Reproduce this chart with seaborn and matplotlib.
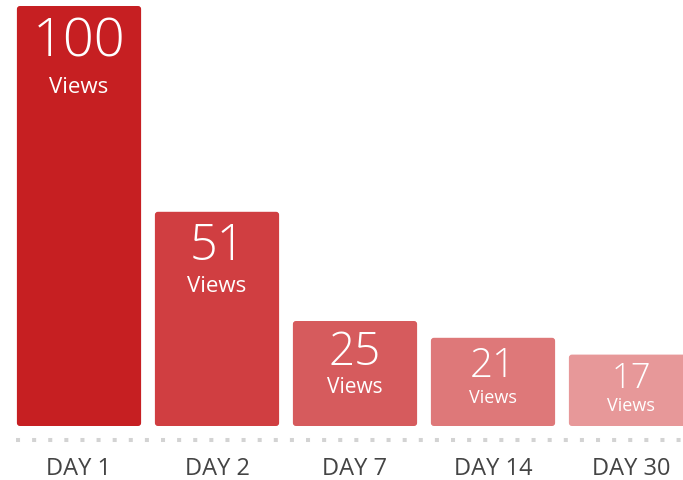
import matplotlib
matplotlib.use("Agg")
import matplotlib.pyplot as plt
import seaborn as sns
import pandas as pd
from matplotlib.patches import FancyBboxPatch

days = ["DAY 1", "DAY 2", "DAY 7", "DAY 14", "DAY 30"]
views = [100, 51, 25, 21, 17]
colors = ["#C61F22", "#D03E41", "#D65B5D", "#DE7879", "#E79899"]
num_sizes = [39, 35, 33, 29, 25]
num_base = [50, 47, 43, 38, 32]      # px below bar top
lbl_sizes = [16, 16, 15, 13, 13]
lbl_base = [86, 79, 71, 64, 55]

df = pd.DataFrame({"day": days, "views": views})

sns.set_style("white")
plt.rcParams["font.family"] = ["Open Sans", "DejaVu Sans"]

fig = plt.figure(figsize=(6.83, 4.81), dpi=100)
ax = fig.add_axes([0, 0, 1, 1])
sns.barplot(data=df, x="day", y="views", hue="day", palette=colors,
            saturation=1, width=0.9, legend=False, ax=ax)

ax.set_xlim(-79 / 138, (683 - 79) / 138)
ax.set_ylim(-54 / 4.2, (481 - 54) / 4.2)

# swap plain rectangles for slightly rounded ones
for p in list(ax.patches):
    x, y = p.get_x(), p.get_y()
    w, h = p.get_width(), p.get_height()
    fb = FancyBboxPatch((x, y), w, h, boxstyle="round,pad=0,rounding_size=0.022",
                        mutation_aspect=32, facecolor=p.get_facecolor(),
                        edgecolor="none")
    p.remove()
    ax.add_patch(fb)

for i, v in enumerate(views):
    ax.annotate(str(v), (i, v), xytext=(0, -num_base[i]), textcoords="offset pixels",
                ha="center", va="baseline", color="white", fontsize=num_sizes[i],
                fontweight="light")
    ax.annotate("Views", (i, v), xytext=(0, -lbl_base[i]),
                textcoords="offset pixels", ha="center", va="baseline",
                color="white", fontsize=lbl_sizes[i])
    ax.text(i, -11.5, days[i], ha="center", va="baseline", color="#444444",
            fontsize=17)

ax.plot([-0.455, 5], [-3.33, -3.33], color="#D3D3D3", lw=2.9,
        linestyle=(0, (1, 3)), solid_capstyle="butt", dash_capstyle="butt")

ax.axis("off")
fig.savefig("out.png", dpi=100)
